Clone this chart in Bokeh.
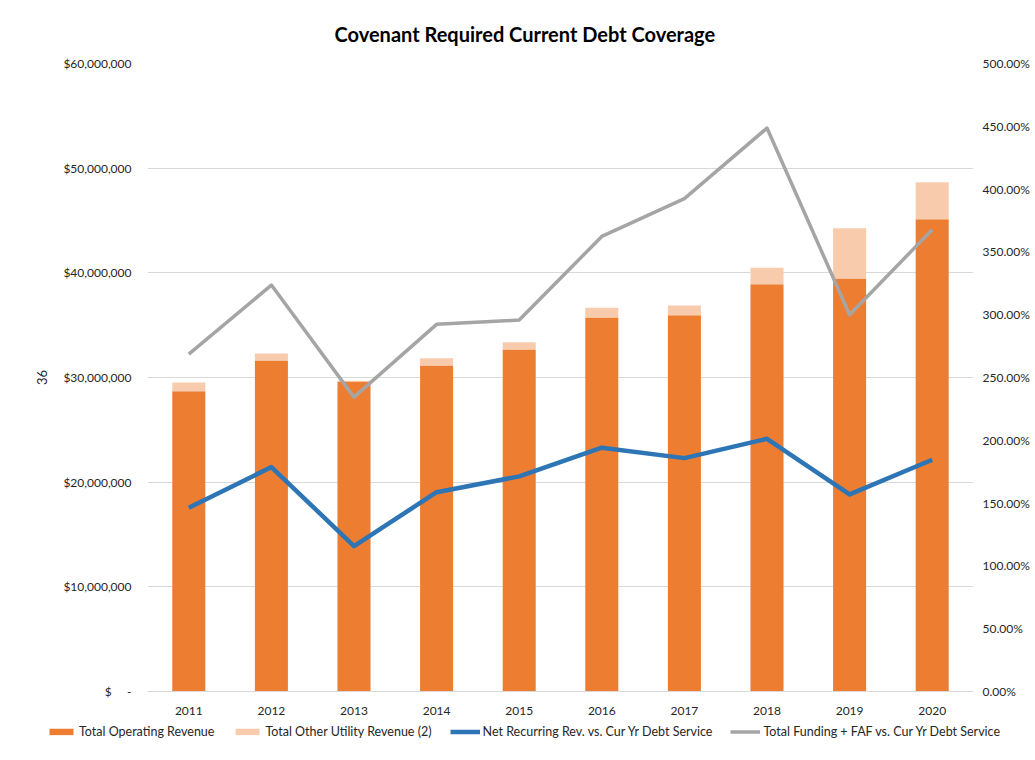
from bokeh.plotting import figure
from bokeh.layouts import column
from bokeh.models import (Range1d, LinearAxis, FixedTicker, NumeralTickFormatter,
                          PrintfTickFormatter, Legend, LegendItem, FactorRange,
                          ColumnDataSource)
from bokeh.embed import file_html
from bokeh.resources import INLINE

# ---- data ----
years = ["2011", "2012", "2013", "2014", "2015", "2016", "2017", "2018", "2019", "2020"]
total_operating_revenue = [28_690_000, 31_620_000, 29_620_000, 31_150_000, 32_670_000,
                           35_730_000, 35_950_000, 38_910_000, 39_460_000, 45_120_000]
total_other_utility_revenue = [830_000, 670_000, 60_000, 700_000, 700_000,
                               930_000, 930_000, 1_570_000, 4_800_000, 3_530_000]
net_recurring_pct = [146.3, 178.7, 115.8, 158.7, 171.3, 194.1, 185.8, 201.2, 156.9, 184.5]
total_funding_pct = [268.6, 323.6, 234.4, 292.3, 295.7, 362.3, 392.4, 448.6, 300.0, 367.7]
left_ticks = [0, 10_000_000, 20_000_000, 30_000_000, 40_000_000, 50_000_000, 60_000_000]
right_ticks = [0, 50, 100, 150, 200, 250, 300, 350, 400, 450, 500]
series_names = ["Total Operating Revenue", "Total Other Utility Revenue (2)",
                "Net Recurring Rev. vs. Cur Yr Debt Service",
                "Total Funding + FAF vs. Cur Yr Debt Service"]
series_colors = ["#ED7D31", "#F8CBAD", "#2E75B6", "#A5A5A5"]
title_text = "Covenant Required  Current Debt Coverage"

FONT = "Lato"
TXT = "#262626"
GRID = "#D9D9D9"

src = ColumnDataSource(dict(year=years, op=total_operating_revenue,
                            other=total_other_utility_revenue,
                            net=net_recurring_pct, fund=total_funding_pct))

p = figure(x_range=FactorRange(*years), y_range=Range1d(0, 60_000_000),
           frame_width=826, frame_height=628,
           output_backend="svg", toolbar_location=None,
           min_border_left=147, min_border_right=50, min_border_top=63,
           min_border_bottom=32, title=title_text)
p.outline_line_color = None
p.background_fill_color = "white"
p.border_fill_color = "white"

p.title.text_font = FONT
p.title.text_font_size = "20px"
p.title.text_font_style = "bold"
p.title.text_color = "black"
p.title.align = "left"
p.title.offset = 187
p.title.standoff = 36

bars = p.vbar_stack(["op", "other"], x="year", width=0.4, source=src,
                    color=series_colors[:2], line_color=None)

p.extra_y_ranges = {"pct": Range1d(0, 500)}
l_net = p.line(x="year", y="net", source=src, y_range_name="pct",
               line_color=series_colors[2], line_width=4.5, line_join="round")
l_fund = p.line(x="year", y="fund", source=src, y_range_name="pct",
                line_color=series_colors[3], line_width=3.5, line_join="round")

# axes
yl = p.yaxis[0]
yl.ticker = FixedTicker(ticks=left_ticks)
yl.formatter = NumeralTickFormatter(format="$0,0")
yl.major_label_overrides = {0: "$" + "\u00a0" * 5 + "-"}
yl.major_label_standoff = 16
yl.axis_label = "36"
yl.axis_label_standoff = 13
yl.axis_label_text_font = FONT
yl.axis_label_text_font_size = "13px"
yl.axis_label_text_font_style = "normal"
yl.axis_label_text_color = TXT

yr = LinearAxis(y_range_name="pct", ticker=FixedTicker(ticks=right_ticks),
                formatter=PrintfTickFormatter(format="%.2f%%"))
p.add_layout(yr, "right")
yr.major_label_standoff = 9

for ax in (yl, yr):
    ax.axis_line_color = None

xa = p.xaxis[0]
xa.axis_line_color = GRID
xa.axis_line_width = 1
xa.major_label_standoff = 15

for ax in (yl, yr, xa):
    ax.major_tick_line_color = None
    ax.minor_tick_line_color = None
    ax.major_tick_out = 0
    ax.major_tick_in = 0
    ax.minor_tick_out = 0
    ax.minor_tick_in = 0
    ax.major_label_text_font = FONT
    ax.major_label_text_font_size = "12px"
    ax.major_label_text_color = TXT

p.xgrid.grid_line_color = None
p.ygrid.grid_line_color = GRID
p.ygrid.grid_line_width = 1

# ---- legend strip below the chart ----
lg = figure(width=1031, height=16, output_backend="svg", toolbar_location=None,
            x_range=Range1d(0, 1), y_range=Range1d(0, 1),
            min_border=0, min_border_left=0, min_border_right=0,
            min_border_top=0, min_border_bottom=0)
for fig in (p, lg):
    if "frame_align" in fig.properties():
        fig.frame_align = False
lg.axis.visible = False
lg.grid.visible = False
lg.outline_line_color = None
lg.background_fill_color = "white"
lg.border_fill_color = "white"
# off-screen placeholder glyphs that only serve as legend swatches
dummy = ColumnDataSource(dict(x=[5.0], y=[5.0]))
d0 = lg.vbar(x="x", top="y", width=0.4, source=dummy, color=series_colors[0], line_color=None)
d1 = lg.vbar(x="x", top="y", width=0.4, source=dummy, color=series_colors[1], line_color=None)
d2 = lg.line(x="x", y="y", source=dummy, line_color=series_colors[2], line_width=4.5)
d3 = lg.line(x="x", y="y", source=dummy, line_color=series_colors[3], line_width=3.5)

legend = Legend(items=[LegendItem(label=series_names[0], renderers=[d0]),
                       LegendItem(label=series_names[1], renderers=[d1]),
                       LegendItem(label=series_names[2], renderers=[d2]),
                       LegendItem(label=series_names[3], renderers=[d3])],
                orientation="horizontal", location="left",
                glyph_width=30, glyph_height=8, label_height=12,
                label_standoff=3, spacing=18, padding=0, margin=46,
                border_line_color=None, background_fill_alpha=0,
                label_text_font=FONT, label_text_font_size="12.5px",
                label_text_color=TXT)
lg.add_layout(legend, "center")

layout = column(p, lg, spacing=0)
open("out.html", "w").write(file_html(layout, INLINE))
